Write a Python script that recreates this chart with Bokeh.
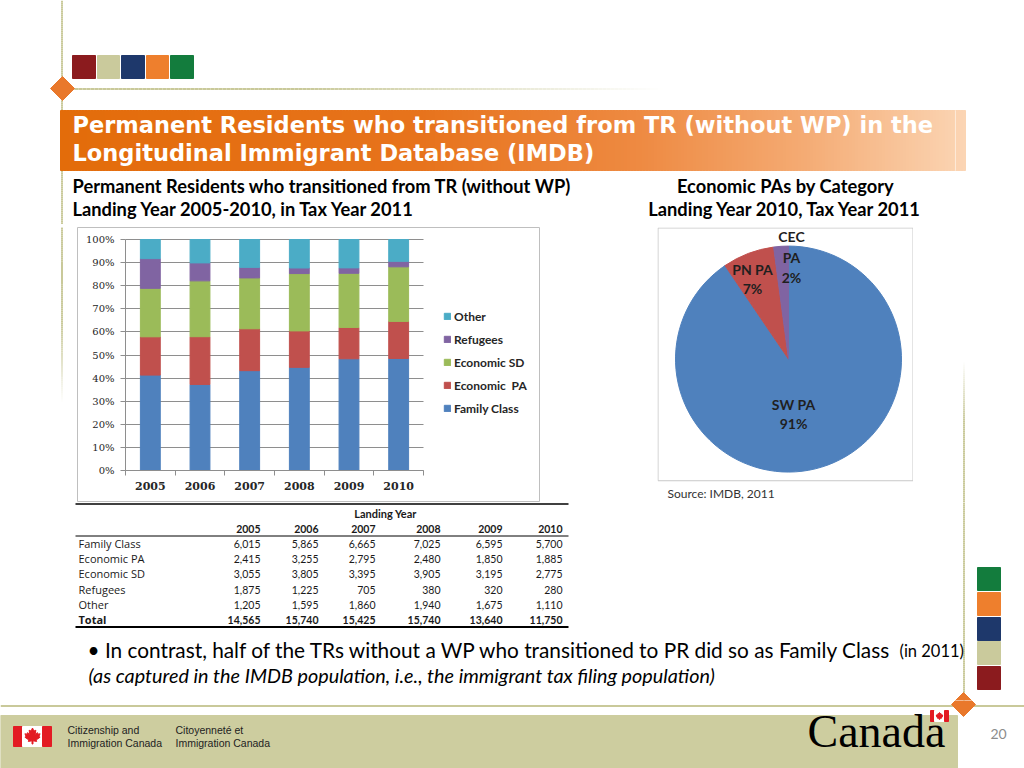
import math
from bokeh.plotting import figure
from bokeh.models import (Range1d, LinearAxis, FixedTicker, NumeralTickFormatter,
                          PrintfTickFormatter, Grid, Legend, LegendItem, ColumnDataSource)
from bokeh.layouts import row, column
from bokeh.embed import file_html
from bokeh.resources import INLINE
from bokeh.core.properties import value

# ---------------- data ----------------
years = [2005, 2006, 2007, 2008, 2009, 2010]
categories = ["Family Class", "Economic  PA", "Economic SD", "Refugees", "Other"]
family_class = [6015, 5865, 6665, 7025, 6595, 5700]
economic_pa = [2415, 3255, 2795, 2480, 1850, 1885]
economic_sd = [3055, 3805, 3395, 3905, 3195, 2775]
refugees = [1875, 1225, 705, 380, 320, 280]
other = [1205, 1595, 1860, 1940, 1675, 1110]
totals = [14565, 15740, 15425, 15740, 13640, 11750]
pct_ticks = [0.0, 0.1, 0.2, 0.3, 0.4, 0.5, 0.6, 0.7, 0.8, 0.9, 1.0]

pie_categories = ["SW PA", "PN PA", "CEC PA"]
pie_shares = [90.5, 7.4, 2.1]
pie_pct_labels = ["91%", "7%", "2%"]

title_lines = ["Permanent Residents who transitioned from TR (without WP) in the",
               "Longitudinal Immigrant Database (IMDB)"]
left_subtitle = ["Permanent Residents who transitioned from TR (without WP)",
                 "Landing Year 2005-2010, in Tax Year 2011"]
right_subtitle = ["Economic PAs by Category", "Landing Year 2010, Tax Year 2011"]

# ---------------- styles ----------------
BAR_COLORS = ["#4F81BD", "#C0504D", "#9BBB59", "#8064A2", "#4BACC6"]
PIE_COLORS = ["#4F81BD", "#C0504D", "#8064A2"]
KHAKI = "#C9C99A"
ORANGE = "#E9782B"
TOP_SQUARES = ["#8B1B1E", "#CACA9C", "#1E386B", "#EE7F2D", "#137C3D"]
RIGHT_SQUARES = ["#137C3D", "#EE7F2D", "#1E386B", "#CACA9C", "#8B1B1E"]
GRID = "#8E8E8E"
TXT = "#1A1A1A"


def hex2rgb(h):
    return tuple(int(h[i:i + 2], 16) for i in (1, 3, 5))


def mix(c1, c2, t):
    t = max(0.0, min(1.0, t))
    a, b = hex2rgb(c1), hex2rgb(c2)
    return "#%02x%02x%02x" % tuple(int(round(a[i] + (b[i] - a[i]) * t)) for i in range(3))


def grad(stops, x):
    for (p0, c0), (p1, c1) in zip(stops[:-1], stops[1:]):
        if x <= p1:
            return mix(c0, c1, (x - p0) / (p1 - p0))
    return stops[-1][1]


def canvas(x0, x1, y0, y1):
    p = figure(width=x1 - x0, height=y1 - y0, x_range=Range1d(x0, x1), y_range=Range1d(y1, y0),
               x_axis_type=None, y_axis_type=None, min_border=0, toolbar_location=None,
               output_backend="svg", tools="", outline_line_color=None,
               background_fill_color="white", border_fill_color="white")
    return p


BAND_STOPS = [(60, "#E36C0A"), (420, "#E7731C"), (640, "#EE8A42"), (800, "#F4AA72"), (965, "#FBD5B4")]


def decor(p):
    # left vertical rule
    ys = list(range(0, 400, 2))
    cols = [KHAKI if y < 320 else mix(KHAKI, "#FFFFFF", (y - 320) / 80) for y in ys]
    p.segment(x0=61.5, y0=ys, x1=61.5, y1=[y + 2 for y in ys], line_color=cols, line_width=2)
    # top horizontal rule
    xs = list(range(62, 660, 4))
    cols = [KHAKI if x < 300 else mix(KHAKI, "#FFFFFF", (x - 300) / 360) for x in xs]
    p.segment(x0=xs, y0=88.5, x1=[x + 4 for x in xs], y1=88.5, line_color=cols, line_width=2)
    # right vertical rule
    ys = list(range(360, 704, 2))
    cols = [mix("#FFFFFF", KHAKI, (y - 360) / 60) for y in ys]
    p.segment(x0=963.5, y0=ys, x1=963.5, y1=[y + 2 for y in ys], line_color=cols, line_width=2)
    # top colour squares
    p.quad(left=[72, 97, 121, 146, 170], right=[95, 119, 144, 168, 193], top=55, bottom=78,
           color=TOP_SQUARES)
    # right colour squares
    tops = [567, 592, 617, 641, 666]
    p.quad(left=977, right=1000, top=tops, bottom=[t + 23 for t in tops], color=RIGHT_SQUARES)
    # title band gradient
    bx = list(range(60, 965, 3))
    p.quad(left=bx, right=[min(x + 3, 965) for x in bx], top=110, bottom=170,
           color=[grad(BAND_STOPS, x + 1.5) for x in bx])
    # footer
    p.segment(x0=0, y0=705.5, x1=1024, y1=705.5, line_color=KHAKI, line_width=2)
    p.quad(left=0, right=957, top=715, bottom=768, color="#CDCD9F")
    # diamonds
    p.patches(xs=[[62, 74, 62, 50], [963, 975, 963, 951]],
              ys=[[76, 88, 100, 88], [692, 704, 716, 704]], color=ORANGE)


def txt(p, x, y, t, size, font="Lato", style="normal", color=TXT, align="left", baseline="middle"):
    p.text(x=x, y=y, text=t, text_font=value(font), text_font_size=size, text_font_style=style,
           text_color=color, text_align=align, text_baseline=baseline)


# ---------------- header ----------------
H = canvas(0, 955, 0, 224)
decor(H)
txt(H, [72, 72], [124, 152], title_lines, "22.5px", font="DejaVu Sans", style="bold", color="white")
txt(H, [72, 72], [185, 208], left_subtitle, "18.3px", style="bold", color="black")
txt(H, [785, 785], [185, 208], right_subtitle, "18.3px", style="bold", color="black", align="center")

# ---------------- bar chart ----------------
BX0, BX1, BY0, BY1 = 77, 540, 224, 502
FY0 = 227
AX_L, AX_R = 125, 423
AY_0, AY_1 = 470, 239
px_per_year = (AX_R - AX_L) / len(years)
px_per_unit = AY_0 - AY_1
xr = Range1d(years[0] - 0.5 - (AX_L - BX0) / px_per_year, years[-1] + 0.5 + (BX1 - AX_R) / px_per_year)
yr = Range1d(-(BY1 - AY_0) / px_per_unit, 1 + (AY_1 - FY0) / px_per_unit)

pb = figure(width=BX1 - BX0, height=BY1 - BY0, x_range=xr, y_range=yr, x_axis_type=None, y_axis_type=None,
            min_border=0, min_border_top=FY0 - BY0, toolbar_location=None, output_backend="svg", tools="",
            outline_line_color="#BFBFBF", background_fill_color="white", border_fill_color="white")

series = [family_class, economic_pa, economic_sd, refugees, other]
keys = ["s%d" % i for i in range(len(series))]
data = {"year": years}
for k, s in zip(keys, series):
    data[k] = [s[i] / sum(ser[i] for ser in series) for i in range(len(years))]
src = ColumnDataSource(data)

xb = (years[0] - 0.5, years[-1] + 0.5)
yticker = FixedTicker(ticks=pct_ticks)
pb.add_layout(Grid(dimension=1, ticker=yticker, cross_bounds=xb, grid_line_color=GRID))

renderers = pb.vbar_stack(keys, x="year", width=0.4, color=BAR_COLORS, source=src)

yaxis = LinearAxis(ticker=yticker, formatter=NumeralTickFormatter(format="0%"), fixed_location=xb[0], bounds=(0, 1))
yaxis.major_tick_in = 0
yaxis.major_tick_out = 5
yaxis.minor_tick_line_color = None
yaxis.axis_line_color = GRID
yaxis.major_tick_line_color = GRID
yaxis.major_label_text_font = "DejaVu Serif"
yaxis.major_label_text_font_size = "10px"
yaxis.major_label_text_color = "#262626"
yaxis.major_label_standoff = 6
pb.add_layout(yaxis, "left")

xticker = FixedTicker(ticks=years, minor_ticks=[y - 0.5 for y in years] + [years[-1] + 0.5])
xaxis = LinearAxis(ticker=xticker, formatter=PrintfTickFormatter(format="%d"), fixed_location=0, bounds=xb)
xaxis.major_tick_in = 0
xaxis.major_tick_out = 0
xaxis.minor_tick_in = 0
xaxis.minor_tick_out = 5
xaxis.minor_tick_line_color = GRID
xaxis.axis_line_color = GRID
xaxis.major_label_text_font = "DejaVu Serif"
xaxis.major_label_text_font_style = "bold"
xaxis.major_label_text_font_size = "11px"
xaxis.major_label_text_color = "#262626"
xaxis.major_label_standoff = 6
pb.add_layout(xaxis, "below")

items = [LegendItem(label=c, renderers=[r]) for c, r in reversed(list(zip(categories, renderers)))]
legend = Legend(items=items, location=(366, 84), padding=0, margin=0, spacing=3,
                glyph_width=8, glyph_height=8, label_height=20, label_standoff=3,
                label_text_font="Lato", label_text_font_style="bold", label_text_font_size="12px",
                label_text_color="#262626", border_line_color=None, background_fill_alpha=0)
pb.add_layout(legend, "center")

# ---------------- pie ----------------
PX0, PX1 = 657, 913
pp = figure(width=PX1 - PX0, height=BY1 - BY0, x_range=Range1d(0, PX1 - PX0), y_range=Range1d(0, BY1 - BY0),
            x_axis_type=None, y_axis_type=None, min_border=0, toolbar_location=None, output_backend="svg",
            tools="", outline_line_color=None, background_fill_color="white", border_fill_color="white")
pp.quad(left=0.5, right=PX1 - PX0 - 0.5, bottom=22, top=BY1 - BY0 - 0.5, fill_color=None, line_color="#C8C8C8")
starts, ends = [0.0] * 3, [0.0] * 3
acc = 90.0
for i in reversed(range(len(pie_shares))):
    starts[i] = math.radians(acc)
    acc += pie_shares[i] / sum(pie_shares) * 360.0
    ends[i] = math.radians(acc)
psrc = ColumnDataSource(dict(cat=pie_categories, start=starts, end=ends, color=PIE_COLORS))
pp.wedge(x=131, y=145, radius=113, start_angle="start", end_angle="end", color="color", source=psrc)
lbl_x = [136, 95, 134]
lbl_y1 = [99, 236, 269]
lbl_y2 = [80, 216, 227]
txt(pp, lbl_x, lbl_y1, [s.split()[0] if s.startswith("CEC") else s for s in pie_categories], "14px",
    style="bold", color="#1F1F1F", align="center")
txt(pp, [134], [248], ["PA"], "14px", style="bold", color="#1F1F1F", align="center")
txt(pp, lbl_x, lbl_y2, pie_pct_labels, "14px", style="bold", color="#1F1F1F", align="center")
txt(pp, [10], [9], ["Source: IMDB, 2011"], "12px", color="#333333")

# ---------------- middle row fillers ----------------
M1 = canvas(0, BX0, BY0, BY1)
decor(M1)
M2 = canvas(BX1, PX0, BY0, BY1)
decor(M2)
M3 = canvas(PX1, 955, BY0, BY1)
decor(M3)

# ---------------- right strip (top part) ----------------
R = canvas(955, 1024, 0, BY1)
decor(R)

# ---------------- table + bullets ----------------
Bt = canvas(0, 1024, BY1, 700)
decor(Bt)
Bt.segment(x0=75, y0=503.5, x1=568, y1=503.5, line_color="black", line_width=1.5)
Bt.segment(x0=75, y0=535.5, x1=568, y1=535.5, line_color="black", line_width=1)
Bt.segment(x0=75, y0=626.5, x1=568, y1=626.5, line_color="black", line_width=2)
col_x = [260, 318, 375, 440, 502, 562]
row_y = [543, 558, 573, 589, 604, 619]
txt(Bt, [385], [513], ["Landing Year"], "11px", style="bold", align="center")
txt(Bt, col_x, [528] * 6, [str(y) for y in years], "10.5px", style="bold", align="right")
txt(Bt, [78] * 5, row_y[:5], categories, "11px", font="Open Sans")
txt(Bt, [78], [row_y[5]], ["Total"], "11px", font="Open Sans", style="bold")
for s, yy in zip(series, row_y[:5]):
    txt(Bt, col_x, [yy] * 6, ["{:,}".format(v) for v in s], "10.5px", align="right")
txt(Bt, col_x, [row_y[5]] * 6, ["{:,}".format(v) for v in totals], "10.5px", style="bold", align="right")
txt(Bt, [87], [649], ["\u2022 In contrast, half of the TRs without a WP who transitioned to PR did so as Family Class"],
    "20.8px", color="black")
txt(Bt, [899], [650], ["(in 2011)"], "16.5px", color="black")
txt(Bt, [88], [674], ["(as captured in the IMDB population, i.e., the  immigrant tax filing population)"],
    "19.8px", style="italic", color="black")

# ---------------- footer ----------------
F = canvas(0, 1024, 700, 768)
decor(F)
F.quad(left=[13, 22, 42], right=[22, 42, 51], top=726, bottom=746, color=["#E31B23", "white", "#E31B23"])
leaf = [(0, -1.0), (0.18, -0.62), (0.42, -0.72), (0.33, -0.2), (0.62, -0.42), (0.7, -0.22), (0.95, -0.28),
        (0.8, 0.05), (0.95, 0.15), (0.45, 0.5), (0.52, 0.68), (0.06, 0.6), (0.06, 1.0), (-0.06, 1.0),
        (-0.06, 0.6), (-0.52, 0.68), (-0.45, 0.5), (-0.95, 0.15), (-0.8, 0.05), (-0.95, -0.28), (-0.7, -0.22),
        (-0.62, -0.42), (-0.33, -0.2), (-0.42, -0.72), (-0.18, -0.62)]
F.patch(x=[32 + 8 * a for a, b in leaf], y=[735.5 + 8 * b for a, b in leaf], color="#E31B23")
txt(F, [67, 67, 175, 175], [729, 742, 729, 742],
    ["Citizenship and", "Immigration Canada", "Citoyennet\u00e9 et", "Immigration Canada"],
    "10.5px", font="Liberation Sans", color="#222222")
txt(F, [807], [731], ["Canada"], "46px", font="Liberation Serif", color="black")
F.quad(left=[930, 934, 944], right=[934, 944, 948], top=710, bottom=721, color=["#E31B23", "white", "#E31B23"])
F.patch(x=[939 + 3.5 * a for a, b in leaf], y=[715.5 + 3.5 * b for a, b in leaf], color="#E31B23")
txt(F, [990], [733], ["20"], "14px", color="#8C8C8C")

# ---------------- layout ----------------
middle = row(M1, pb, M2, pp, M3)
upper = row(column(H, middle), R)
layout = column(upper, Bt, F)

open("out.html", "w").write(file_html(layout, INLINE))
